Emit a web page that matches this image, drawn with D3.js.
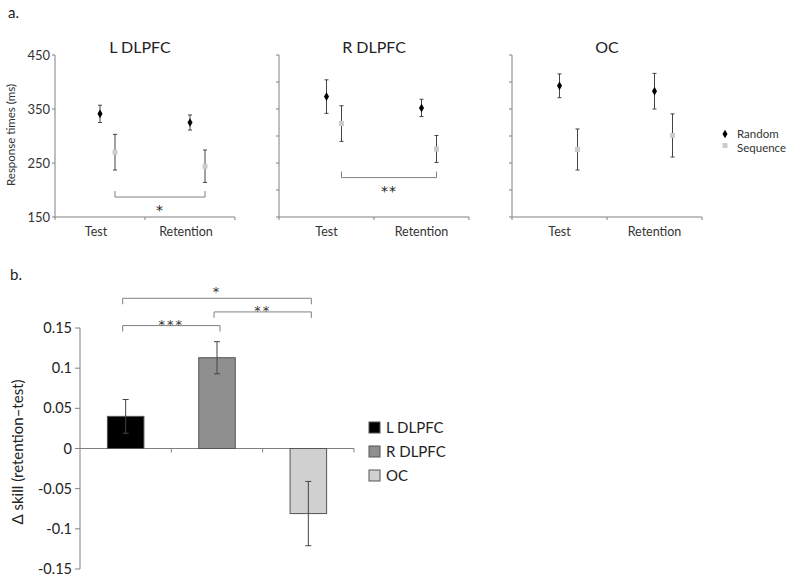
<!DOCTYPE html>
<html>
<head>
<meta charset="utf-8">
<title>Response times and skill change</title>
<script src="https://cdnjs.cloudflare.com/ajax/libs/d3/7.8.5/d3.min.js"></script>
<style>
  html, body { margin: 0; padding: 0; background: #fff; }
  svg { display: block; font-family: Lato, 'Open Sans', sans-serif; }
  .dom { stroke: #808080; stroke-width: 1; fill: none; }
  .star { font-family: 'DejaVu Sans', sans-serif; }
</style>
</head>
<body>
<svg id="chart" width="800" height="586"></svg>
<script>
// ---- data ----
var regions = ['L DLPFC', 'R DLPFC', 'OC'];
var phases = ['Test', 'Retention'];
var randomMean = [[341, 325], [373, 352], [393, 383]];
var randomErr  = [[16, 14], [31, 16], [22, 33]];
var seqMean    = [[270, 244], [323, 276], [275, 301]];
var seqErr     = [[33, 30], [33, 25], [38, 40]];
var rtTicks = [150, 250, 350, 450];
var rtMinor = [150, 200, 250, 300, 350, 400, 450];
// sequence test vs retention brackets in panel a
var rtBrackets = [{ panel: 0, y: 187, label: '*' }, { panel: 1, y: 223, label: '**' }];

var skillMean = [0.04, 0.113, -0.081];
var skillErr  = [0.021, 0.02, 0.04];
var skillTicks = [-0.15, -0.1, -0.05, 0, 0.05, 0.1, 0.15];
var skillColors = ['#000000', '#8f8f8f', '#d0d0d0'];
var skillBrackets = [
  { from: 0, to: 1, y: 0.153, label: '***' },
  { from: 1, to: 2, y: 0.170, label: '**' },
  { from: 0, to: 2, y: 0.187, label: '*' }
];

var svg = d3.select('#chart');

// ---- panel a ----
svg.append('text').attr('x', 8).attr('y', 18).attr('font-size', 15).attr('fill', '#222').text('a.');

var panels = [{ x0: 55, x1: 235 }, { x0: 279, x1: 469 }, { x0: 512, x1: 702 }];
var yRT = d3.scaleLinear().domain([150, 450]).range([217, 55]);

panels.forEach(function (p, i) {
  var g = svg.append('g');
  var x = d3.scaleBand().domain(phases).range([p.x0, p.x1]);
  var seqShift = i === 2 ? 18 : 15;

  // y axis
  g.append('line').attr('class', 'dom').attr('x1', p.x0).attr('x2', p.x0)
    .attr('y1', yRT(450)).attr('y2', yRT(150));
  g.selectAll('.yt').data(i === 0 ? rtTicks : rtMinor).join('line')
    .attr('class', 'dom').attr('x1', p.x0 - 3).attr('x2', p.x0)
    .attr('y1', yRT).attr('y2', yRT);
  if (i === 0) {
    g.selectAll('.yl').data(rtTicks).join('text')
      .attr('x', p.x0 - 5).attr('y', function (d) { return yRT(d) + 4.5; })
      .attr('text-anchor', 'end').attr('font-size', 13).attr('fill', '#333')
      .text(function (d) { return d; });
    g.append('text').attr('transform', 'translate(15,' + 135 + ') rotate(-90)')
      .attr('text-anchor', 'middle').attr('font-size', 11.5).attr('fill', '#333')
      .text('Response times (ms)');
  }

  // x axis
  g.append('line').attr('class', 'dom').attr('x1', p.x0).attr('x2', p.x1)
    .attr('y1', yRT(150)).attr('y2', yRT(150));
  g.selectAll('.xt').data([p.x0, p.x0 + x.bandwidth(), p.x1]).join('line')
    .attr('class', 'dom').attr('x1', function (d) { return d; }).attr('x2', function (d) { return d; })
    .attr('y1', yRT(150)).attr('y2', yRT(150) + 3);
  g.selectAll('.xl').data(phases).join('text')
    .attr('x', function (d) { return x(d) + x.bandwidth() / 2 - (i === 0 ? 4 : 0); })
    .attr('y', 236).attr('text-anchor', 'middle').attr('font-size', 12.5).attr('fill', '#333')
    .text(function (d) { return d; });

  // title
  g.append('text').attr('x', (p.x0 + p.x1) / 2 - (i === 0 ? 5 : 0)).attr('y', 53)
    .attr('text-anchor', 'middle').attr('font-size', 16).attr('fill', '#222').text(regions[i]);

  // error bars + markers
  function series(means, errs, shift, cls) {
    var rows = phases.map(function (ph, j) {
      return { cx: x(ph) + x.bandwidth() / 2 + shift, m: means[i][j], e: errs[i][j] };
    });
    var eb = g.selectAll('.eb' + cls).data(rows).join('g');
    eb.append('line').attr('stroke', '#444').attr('stroke-width', 1)
      .attr('x1', function (d) { return d.cx; }).attr('x2', function (d) { return d.cx; })
      .attr('y1', function (d) { return yRT(d.m + d.e); }).attr('y2', function (d) { return yRT(d.m - d.e); });
    [1, -1].forEach(function (s) {
      eb.append('line').attr('stroke', '#444').attr('stroke-width', 1)
        .attr('x1', function (d) { return d.cx - 2; }).attr('x2', function (d) { return d.cx + 2; })
        .attr('y1', function (d) { return yRT(d.m + s * d.e); }).attr('y2', function (d) { return yRT(d.m + s * d.e); });
    });
    return rows;
  }
  var rnd = series(randomMean, randomErr, 0, 'r');
  var seq = series(seqMean, seqErr, seqShift, 's');
  g.selectAll('.mr').data(rnd).join('path')
    .attr('d', d3.symbol(d3.symbolDiamond, 22))
    .attr('transform', function (d) { return 'translate(' + d.cx + ',' + yRT(d.m) + ')'; })
    .attr('fill', '#000');
  g.selectAll('.ms').data(seq).join('rect')
    .attr('x', function (d) { return d.cx - 2.5; }).attr('y', function (d) { return yRT(d.m) - 2.5; })
    .attr('width', 5).attr('height', 5).attr('fill', '#cccccc');

  // brackets
  rtBrackets.filter(function (b) { return b.panel === i; }).forEach(function (b) {
    var xa = seq[0].cx, xb = seq[1].cx, yb = yRT(b.y);
    g.append('path').attr('class', 'dom').attr('stroke', '#666')
      .attr('d', 'M' + xa + ',' + (yb - 6) + 'V' + yb + 'H' + xb + 'V' + (yb - 6));
    g.append('text').attr('class', 'star').attr('x', (xa + xb) / 2).attr('y', yb + 18)
      .attr('text-anchor', 'middle').attr('font-size', 14).attr('fill', '#222')
      .attr('letter-spacing', 1).text(b.label);
  });
});

// legend a
var legA = svg.append('g').attr('transform', 'translate(725,0)');
legA.append('path').attr('d', d3.symbol(d3.symbolDiamond, 22)).attr('transform', 'translate(0,134)').attr('fill', '#000');
legA.append('rect').attr('x', -2.5).attr('y', 143).attr('width', 5).attr('height', 5).attr('fill', '#cccccc');
legA.append('text').attr('x', 12).attr('y', 137.5).attr('font-size', 11.5).attr('fill', '#333').text('Random');
legA.append('text').attr('x', 12).attr('y', 151.5).attr('font-size', 11.5).attr('fill', '#333').text('Sequence');

// ---- panel b ----
svg.append('text').attr('x', 10).attr('y', 280).attr('font-size', 15).attr('fill', '#222').text('b.');

var xB = d3.scaleBand().domain(regions).range([80, 354]).paddingInner(0.6).paddingOuter(0.3);
var yB = d3.scaleLinear().domain([-0.15, 0.15]).range([569, 328]);
var gb = svg.append('g');

gb.append('line').attr('class', 'dom').attr('x1', 80).attr('x2', 80).attr('y1', yB(0.15)).attr('y2', yB(-0.15));
gb.selectAll('.yt').data(skillTicks).join('line').attr('class', 'dom')
  .attr('x1', 75).attr('x2', 80).attr('y1', yB).attr('y2', yB);
gb.selectAll('.yl').data(skillTicks).join('text')
  .attr('x', 72).attr('y', function (d) { return yB(d) + 5; })
  .attr('text-anchor', 'end').attr('font-size', 14.5).attr('fill', '#222')
  .text(function (d) { return String(d); });
gb.append('text').attr('transform', 'translate(23,452) rotate(-90)')
  .attr('text-anchor', 'middle').attr('font-size', 15).attr('fill', '#222')
  .text('\u0394 skill (retention\u2013test)');

var step = (354 - 80) / regions.length;
gb.append('line').attr('class', 'dom').attr('x1', 80).attr('x2', 354).attr('y1', yB(0)).attr('y2', yB(0));
gb.selectAll('.xt').data(regions).join('line').attr('class', 'dom')
  .attr('x1', function (d, i) { return 80 + step * (i + 1); }).attr('x2', function (d, i) { return 80 + step * (i + 1); })
  .attr('y1', yB(0)).attr('y2', yB(0) + 4);

gb.selectAll('.bar').data(regions).join('rect')
  .attr('x', function (d) { return xB(d); }).attr('width', xB.bandwidth())
  .attr('y', function (d, i) { return yB(Math.max(0, skillMean[i])); })
  .attr('height', function (d, i) { return Math.abs(yB(skillMean[i]) - yB(0)); })
  .attr('fill', function (d, i) { return skillColors[i]; })
  .attr('stroke', '#555').attr('stroke-width', 1);

var cxB = function (d) { return xB(d) + xB.bandwidth() / 2; };
var ebB = gb.selectAll('.eb').data(regions).join('g');
ebB.append('line').attr('stroke', '#444')
  .attr('x1', cxB).attr('x2', cxB)
  .attr('y1', function (d, i) { return yB(skillMean[i] + skillErr[i]); })
  .attr('y2', function (d, i) { return yB(skillMean[i] - skillErr[i]); });
[1, -1].forEach(function (s) {
  ebB.append('line').attr('stroke', '#444')
    .attr('x1', function (d) { return cxB(d) - 3; }).attr('x2', function (d) { return cxB(d) + 3; })
    .attr('y1', function (d, i) { return yB(skillMean[i] + s * skillErr[i]); })
    .attr('y2', function (d, i) { return yB(skillMean[i] + s * skillErr[i]); });
});

skillBrackets.forEach(function (b) {
  var xa = cxB(regions[b.from]) - 3, xb = cxB(regions[b.to]) + 3, yb = yB(b.y);
  gb.append('path').attr('class', 'dom').attr('stroke', '#666')
    .attr('d', 'M' + xa + ',' + (yb + 6) + 'V' + yb + 'H' + xb + 'V' + (yb + 6));
  gb.append('text').attr('class', 'star').attr('x', (xa + xb) / 2).attr('y', yb + (b.label === '*' ? -2 : 3))
    .attr('text-anchor', 'middle').attr('font-size', 13).attr('fill', '#333')
    .attr('letter-spacing', 2).text(b.label);
});

// legend b
var legB = gb.selectAll('.leg').data(regions).join('g')
  .attr('transform', function (d, i) { return 'translate(369,' + (422 + i * 24) + ')'; });
legB.append('rect').attr('width', 11).attr('height', 11)
  .attr('fill', function (d, i) { return skillColors[i]; }).attr('stroke', '#555');
legB.append('text').attr('x', 17).attr('y', 11).attr('font-size', 15).attr('fill', '#222')
  .text(function (d) { return d; });
</script>
</body>
</html>
